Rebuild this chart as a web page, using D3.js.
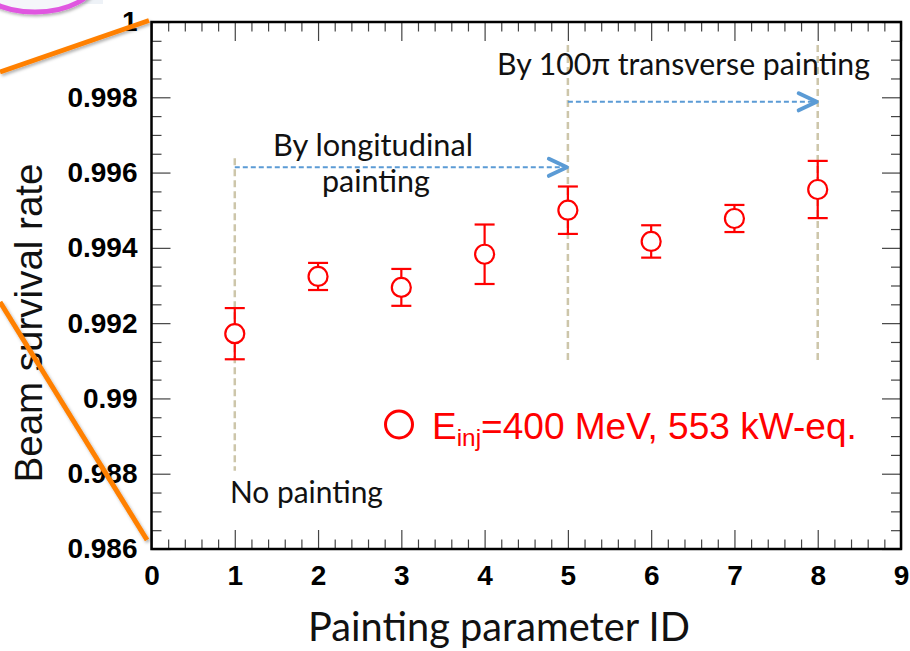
<!DOCTYPE html>
<html>
<head>
<meta charset="utf-8">
<script src="https://cdn.jsdelivr.net/npm/d3@7"></script>
<style>
  html, body { margin: 0; padding: 0; background: #ffffff; }
  svg { display: block; }
</style>
</head>
<body>
<svg id="chart" width="910" height="651"></svg>
<script>
// ---------------- data ----------------
const paramIds   = [1, 2, 3, 4, 5, 6, 7, 8];
const survival   = [0.99172, 0.99324, 0.99295, 0.99383, 0.99500, 0.99417, 0.99478, 0.99555];
const survErr    = [0.00068, 0.00036, 0.00049, 0.00079, 0.00063, 0.00043, 0.00036, 0.00076];

const xTickValues = [0, 1, 2, 3, 4, 5, 6, 7, 8, 9];
const xTickLabels = ["0", "1", "2", "3", "4", "5", "6", "7", "8", "9"];
const yTickValues = [0.986, 0.988, 0.990, 0.992, 0.994, 0.996, 0.998, 1.000];
const yTickLabels = ["0.986", "0.988", "0.99", "0.992", "0.994", "0.996", "0.998", "1"];

// marker lines (x, yFrom, yTo) in data units
const markerX     = [1, 5, 8];
const markerYTop  = [0.99638, 0.99939, 0.99939];
const markerYBot  = [0.98808, 0.99095, 0.99095];
// arrows (xFrom, xTo, y)
const arrowFrom   = [1, 5];
const arrowTo     = [5, 8];
const arrowY      = [0.99614, 0.99788];

const xTitle = "Painting parameter ID";
const yTitle = "Beam survival rate";
const legendMain = "E";
const legendSub = "inj";
const legendRest = "=400 MeV, 553 kW-eq.";

// ---------------- layout ----------------
const svg = d3.select("#chart");
const L = 151.5, R = 901, T = 22, B = 549;
const x = d3.scaleLinear().domain([0, 9]).range([L, R]);
const y = d3.scaleLinear().domain([0.986, 1.0]).range([B, T]);

const calib = "Lato, 'Open Sans', sans-serif";
const helv = "'Liberation Sans', Arial, Helvetica, sans-serif";

function fitWidth(sel, target) {
  const w = sel.node().getComputedTextLength();
  const fs = parseFloat(sel.attr("font-size"));
  sel.attr("font-size", fs * target / w);
}

const defs = svg.append("defs");
const sh = defs.append("filter").attr("id", "shadow").attr("x", "-20%").attr("y", "-20%").attr("width", "140%").attr("height", "140%");
sh.append("feDropShadow").attr("dx", 1.5).attr("dy", 2).attr("stdDeviation", 1.5)
  .attr("flood-color", "#000").attr("flood-opacity", 0.3);

// ---------------- marker (beige dashed) lines ----------------
svg.append("g").selectAll("line").data(markerX).join("line")
  .attr("x1", d => x(d)).attr("x2", d => x(d))
  .attr("y1", (d, i) => y(markerYTop[i])).attr("y2", (d, i) => y(markerYBot[i]))
  .attr("stroke", "#cdc6aa").attr("stroke-width", 2.5).attr("stroke-dasharray", "7,4");

// ---------------- arrows ----------------
const arrows = svg.append("g");
arrowFrom.forEach((f, i) => {
  const x1 = x(f), x2 = x(arrowTo[i]) - 1, yy = y(arrowY[i]);
  arrows.append("line").attr("x1", x1).attr("x2", x2 - 3).attr("y1", yy).attr("y2", yy)
    .attr("stroke", "#5b9bd5").attr("stroke-width", 2).attr("stroke-dasharray", "5,3");
  arrows.append("path")
    .attr("d", `M${x2 - 18},${yy - 8.5}L${x2},${yy}L${x2 - 18},${yy + 8.5}`)
    .attr("fill", "none").attr("stroke", "#5b9bd5").attr("stroke-width", 4)
    .attr("stroke-linecap", "round").attr("stroke-linejoin", "round");
});

// ---------------- annotation text ----------------
const ann = svg.append("g").attr("font-family", calib).attr("fill", "#111");
const t1 = ann.append("text").attr("x", 373).attr("y", 156).attr("text-anchor", "middle")
  .attr("font-size", 30).text("By longitudinal");
fitWidth(t1, 200);
const t2 = ann.append("text").attr("x", 376).attr("y", 192).attr("text-anchor", "middle")
  .attr("font-size", 30).text("painting");
fitWidth(t2, 108);
const t3 = ann.append("text").attr("x", 683.5).attr("y", 75).attr("text-anchor", "middle")
  .attr("font-size", 30).text("By 100\u03C0 transverse painting");
fitWidth(t3, 373);
const t4 = ann.append("text").attr("x", 230).attr("y", 503).attr("text-anchor", "start")
  .attr("font-size", 30).text("No painting");
fitWidth(t4, 153);

// ---------------- axes ----------------
function minorVals(domain, step, majors) {
  const out = [];
  const n = Math.round((domain[1] - domain[0]) / step);
  for (let i = 0; i <= n; i++) {
    const v = domain[0] + i * step;
    if (!majors.some(m => Math.abs(m - v) < step / 10)) out.push(v);
  }
  return out;
}
const xMinor = minorVals([0, 9], 0.2, xTickValues);
const yMinor = minorVals([0.986, 1.0], 0.0005, yTickValues);

function styleAxis(g) {
  g.select(".domain").remove();
  g.selectAll(".tick line").attr("stroke", "#444").attr("stroke-width", 1.2);
}

// bottom
svg.append("g").attr("transform", `translate(0,${B})`)
  .call(d3.axisBottom(x).tickValues(xTickValues).tickSizeInner(-19).tickSizeOuter(0).tickPadding(16)
    .tickFormat((d, i) => xTickLabels[i]))
  .call(styleAxis)
  .call(g => g.selectAll("text").attr("font-family", helv).attr("font-weight", "bold")
    .attr("font-size", 28).attr("fill", "#000"));
svg.append("g").attr("transform", `translate(0,${B})`)
  .call(d3.axisBottom(x).tickValues(xMinor).tickSizeInner(-9.5).tickSizeOuter(0).tickFormat(""))
  .call(styleAxis);
// top
svg.append("g").attr("transform", `translate(0,${T})`)
  .call(d3.axisTop(x).tickValues(xTickValues).tickSizeInner(-19).tickSizeOuter(0).tickFormat(""))
  .call(styleAxis);
svg.append("g").attr("transform", `translate(0,${T})`)
  .call(d3.axisTop(x).tickValues(xMinor).tickSizeInner(-9.5).tickSizeOuter(0).tickFormat(""))
  .call(styleAxis);
// left
svg.append("g").attr("transform", `translate(${L},0)`)
  .call(d3.axisLeft(y).tickValues(yTickValues).tickSizeInner(-19).tickSizeOuter(0).tickPadding(14)
    .tickFormat((d, i) => yTickLabels[i]))
  .call(styleAxis)
  .call(g => g.selectAll("text").attr("font-family", helv).attr("font-weight", "bold")
    .attr("font-size", 28).attr("fill", "#000"));
svg.append("g").attr("transform", `translate(${L},0)`)
  .call(d3.axisLeft(y).tickValues(yMinor).tickSizeInner(-10).tickSizeOuter(0).tickFormat(""))
  .call(styleAxis);
// right
svg.append("g").attr("transform", `translate(${R},0)`)
  .call(d3.axisRight(y).tickValues(yTickValues).tickSizeInner(-19).tickSizeOuter(0).tickFormat(""))
  .call(styleAxis);
svg.append("g").attr("transform", `translate(${R},0)`)
  .call(d3.axisRight(y).tickValues(yMinor).tickSizeInner(-10).tickSizeOuter(0).tickFormat(""))
  .call(styleAxis);

// frame
svg.append("rect").attr("x", L).attr("y", T).attr("width", R - L).attr("height", B - T)
  .attr("fill", "none").attr("stroke", "#000").attr("stroke-width", 2.5);

// ---------------- titles ----------------
const xt = svg.append("text").attr("x", 499).attr("y", 641).attr("text-anchor", "middle")
  .attr("font-family", calib).attr("font-size", 36).attr("fill", "#111").text(xTitle);
fitWidth(xt, 382);
svg.append("text").attr("transform", "translate(42,323) rotate(-90)").attr("text-anchor", "middle")
  .attr("font-family", helv).attr("font-size", 38.5).attr("fill", "#111").text(yTitle);

// ---------------- data points ----------------
const pts = paramIds.map((id, i) => ({ id, v: survival[i], e: survErr[i] }));
const r = 9.5, cap = 10;
const gp = svg.append("g").attr("stroke", "#ff0000").attr("stroke-width", 2.2).attr("fill", "none");
gp.selectAll("g.pt").data(pts).join("g").attr("class", "pt").each(function (d) {
  const g = d3.select(this);
  const cx = x(d.id), cy = y(d.v), yt = y(d.v + d.e), yb = y(d.v - d.e);
  g.append("line").attr("x1", cx).attr("x2", cx).attr("y1", yt).attr("y2", cy - r);
  g.append("line").attr("x1", cx).attr("x2", cx).attr("y1", cy + r).attr("y2", yb);
  g.append("line").attr("x1", cx - cap).attr("x2", cx + cap).attr("y1", yt).attr("y2", yt);
  g.append("line").attr("x1", cx - cap).attr("x2", cx + cap).attr("y1", yb).attr("y2", yb);
  g.append("circle").attr("cx", cx).attr("cy", cy).attr("r", r).attr("fill", "#fff");
});

// ---------------- legend ----------------
svg.append("circle").attr("cx", 399).attr("cy", 424.5).attr("r", 13.5)
  .attr("fill", "none").attr("stroke", "#ff0000").attr("stroke-width", 3);
const lg = svg.append("text").attr("x", 432).attr("y", 439).attr("font-family", helv)
  .attr("font-size", 38).attr("fill", "#ff0000");
lg.append("tspan").text(legendMain);
lg.append("tspan").attr("font-size", 25).attr("dy", 7).text(legendSub);
lg.append("tspan").attr("dy", -7).text(legendRest);
{
  const w = lg.node().getComputedTextLength();
  const k = 425 / w;
  lg.attr("font-size", 38 * k);
  lg.selectAll("tspan").filter((d, i) => i === 1).attr("font-size", 25 * k);
}

// ---------------- slide decorations ----------------
const deco = svg.append("g");
deco.append("rect").attr("x", 0).attr("y", 0).attr("width", 103).attr("height", 4).attr("fill", "#eef2f7");
deco.append("ellipse").attr("cx", 35).attr("cy", -20).attr("rx", 60).attr("ry", 32)
  .attr("fill", "#f5f6fa").attr("stroke", "#e056e0").attr("stroke-width", 5).attr("filter", "url(#shadow)");
deco.append("line").attr("x1", 0).attr("y1", 72).attr("x2", 149).attr("y2", 20.5)
  .attr("stroke", "#ff8000").attr("stroke-width", 5).attr("filter", "url(#shadow)");
deco.append("line").attr("x1", 0).attr("y1", 302).attr("x2", 147).attr("y2", 540)
  .attr("stroke", "#ff8000").attr("stroke-width", 5).attr("filter", "url(#shadow)");
</script>
</body>
</html>
